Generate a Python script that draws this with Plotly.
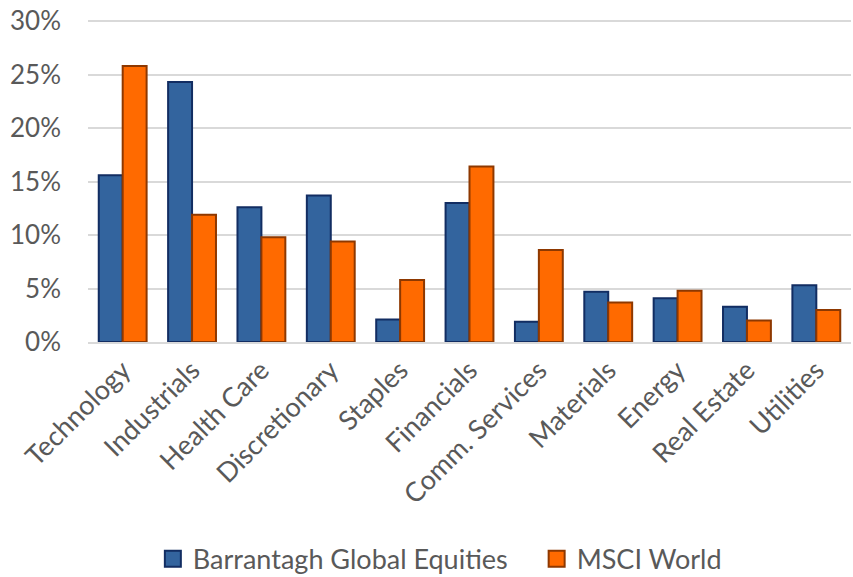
import plotly.graph_objects as go

categories = ["Technology", "Industrials", "Health Care", "Discretionary", "Staples",
              "Financials", "Comm. Services", "Materials", "Energy", "Real Estate", "Utilities"]
barrantagh = [15.6, 24.3, 12.6, 13.7, 2.1, 13.0, 1.9, 4.7, 4.1, 3.3, 5.3]
msci_world = [25.8, 11.9, 9.8, 9.4, 5.8, 16.4, 8.6, 3.7, 4.8, 2.0, 3.0]
y_ticks = [0, 5, 10, 15, 20, 25, 30]
y_tick_labels = ["0%", "5%", "10%", "15%", "20%", "25%", "30%"]
series_names = ["Barrantagh Global Equities", "MSCI World"]

FONT = "Lato, Open Sans, sans-serif"
TXT = "#595959"
BLUE, BLUE_EDGE = "#33649E", "#122D62"
ORANGE, ORANGE_EDGE = "#FF6A00", "#8E3800"

fig = go.Figure()
fig.add_trace(go.Bar(
    x=categories, y=barrantagh, name=series_names[0], showlegend=False,
    marker=dict(color=BLUE, line=dict(color=BLUE_EDGE, width=2)),
))
fig.add_trace(go.Bar(
    x=categories, y=msci_world, name=series_names[1], showlegend=False,
    marker=dict(color=ORANGE, line=dict(color=ORANGE_EDGE, width=2)),
))
# legend entries with larger square swatches
for nm, c, e, lg in [(series_names[0], BLUE, BLUE_EDGE, "legend"),
                     (series_names[1], ORANGE, ORANGE_EDGE, "legend2")]:
    fig.add_trace(go.Scatter(
        x=[None], y=[None], mode="markers", name=nm, legend=lg,
        marker=dict(symbol="square", size=20, color=c, line=dict(color=e, width=2)),
    ))

leg_common = dict(orientation="h", xanchor="left", yref="container", y=0.031,
                  yanchor="middle",
                  font=dict(size=27, color=TXT, family=FONT), itemsizing="trace",
                  itemwidth=30, bgcolor="rgba(0,0,0,0)")

fig.update_layout(
    width=853, height=577,
    margin=dict(l=88, r=2, t=19, b=235),
    paper_bgcolor="white", plot_bgcolor="white",
    barmode="group", bargap=0.31, bargroupgap=0,
    font=dict(family=FONT, color=TXT, size=26),
    showlegend=True,
    legend=dict(x=0.085, **leg_common),
    legend2=dict(x=0.588, **leg_common),
    xaxis=dict(tickangle=-45, tickfont=dict(size=27, color=TXT), automargin=False,
               showline=True, linecolor="#D9D9D9", linewidth=1.5, ticks=""),
    yaxis=dict(range=[0, 30.2], tickvals=y_ticks, ticktext=y_tick_labels,
               tickfont=dict(size=26, color=TXT), automargin=False,
               ticklabeloverflow="allow",
               showgrid=True, gridcolor="#D9D9D9", gridwidth=1.5, zeroline=False,
               ticks="", ticklabelstandoff=26),
)

fig.write_html("out.html", config={"displayModeBar": False},
               post_script="document.body.style.margin='0';document.body.style.overflow='hidden';")
